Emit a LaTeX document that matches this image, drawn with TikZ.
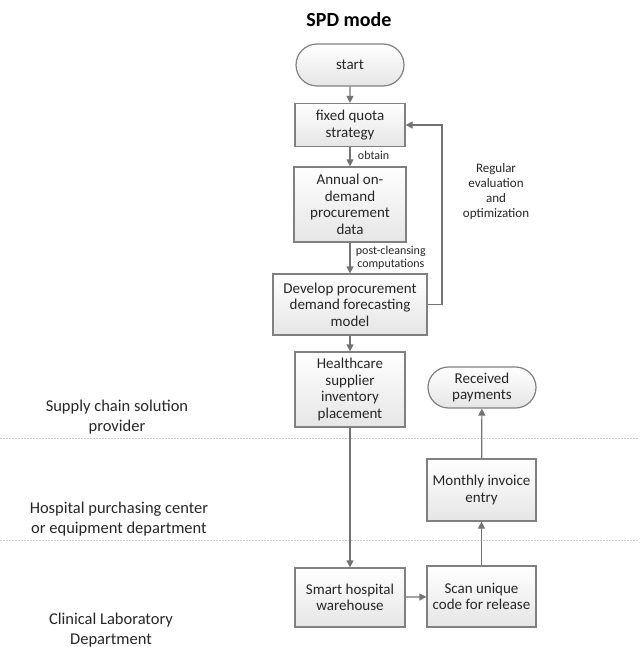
\documentclass[tikz,border=0pt]{standalone}
\usepackage{fontspec}
\setmainfont{Carlito}
\usetikzlibrary{arrows.meta,shapes.misc}
\begin{document}
\begin{tikzpicture}[x=1pt,y=-1pt,
  box/.style={draw=black!50,line width=1.2pt,top color=white,bottom color=black!10,
    align=center,font=\fontsize{15}{16.5}\selectfont,inner sep=1pt,text=black!85},
  term/.style={box,rounded rectangle},
  conn/.style={draw=black!55,line width=1.2pt,-{Triangle[length=7pt,width=7pt]}},
  lbl/.style={font=\fontsize{12}{13}\selectfont,text=black!85,align=center},
  lane/.style={font=\fontsize{16.5}{20}\selectfont,text=black!85,align=center},
  sep/.style={draw=black!20,dash pattern=on 1.5pt off 1.5pt,line width=0.8pt}]
\useasboundingbox (0,0) rectangle (639,647);
\node[font=\bfseries\fontsize{20}{22}\selectfont] (title) at (349,20) {SPD mode};
\node[term,minimum width=110pt,minimum height=42pt] (start) at (350,65) {start};
\node[box,minimum width=110pt,minimum height=43pt] (fixed) at (350,125) {fixed quota\\strategy};
\node[box,minimum width=112pt,minimum height=75pt] (annual) at (350,204.5) {Annual on-\\demand\\procurement\\data};
\node[box,minimum width=154pt,minimum height=61pt] (dev) at (350,304.5) {Develop procurement\\demand forecasting\\model};
\node[box,minimum width=110pt,minimum height=75pt] (health) at (350,389.5) {Healthcare\\supplier\\inventory\\placement};
\node[term,minimum width=110pt,minimum height=41pt] (recv) at (482,387.5) {Received\\payments};
\node[box,minimum width=109pt,minimum height=62pt] (month) at (481.5,490) {Monthly invoice\\entry};
\node[box,minimum width=110pt,minimum height=59pt] (smart) at (350,597.5) {Smart hospital\\warehouse};
\node[box,minimum width=109pt,minimum height=61pt] (scan) at (481.5,596.5) {Scan unique\\code for release};
\draw[sep] (0,438) -- (639,438);
\draw[sep] (0,540) -- (639,540);
\node[lane] (l1) at (117,417) {Supply chain solution\\provider};
\node[lane] (l2) at (119,519) {Hospital purchasing center\\or equipment department};
\node[lane] (l3) at (111,630) {Clinical Laboratory\\Department};
\draw[conn] (start) -- (fixed);
\draw[conn] (fixed) -- node[lbl,right,xshift=4pt,yshift=1pt] {obtain} (annual);
\draw[conn] (annual) -- node[lbl,right,xshift=2pt] {post-cleansing\\computations} (dev);
\coordinate (c1) at (442,304.5);
\coordinate (c2) at (442,125);
\draw[conn] (dev.east) -- (c1) -- (c2) -- (fixed.east);
\node[lbl,font=\fontsize{13}{15}\selectfont] (reg) at (496,192) {Regular\\evaluation\\and\\optimization};
\draw[conn] (dev) -- (health);
\draw[conn] (health) -- (smart);
\draw[conn] (smart) -- (scan);
\draw[conn] (scan) -- (month);
\draw[conn] (month) -- (recv);
\end{tikzpicture}
\end{document}
